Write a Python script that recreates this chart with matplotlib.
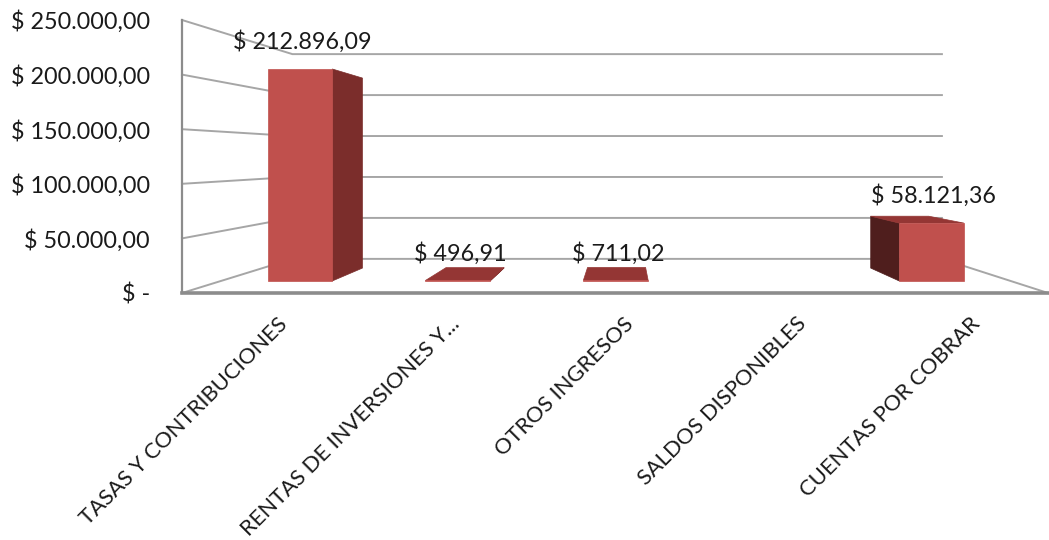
import numpy as np
import matplotlib.pyplot as plt
from matplotlib.patches import Polygon

plt.rcParams['font.family'] = ['Lato', 'DejaVu Sans']

categories = ['TASAS Y CONTRIBUCIONES', 'RENTAS DE INVERSIONES Y...',
              'OTROS INGRESOS', 'SALDOS DISPONIBLES', 'CUENTAS POR COBRAR']
values = [212896.09, 496.91, 711.02, np.nan, 58121.36]
yticks = [0, 50000, 100000, 150000, 200000, 250000]


def money(v):
    if v == 0:
        return '$ -'
    s = f'{v:,.2f}'.replace(',', '#').replace('.', ',').replace('#', '.')
    return '$ ' + s


# simple perspective: depth z from 0 (front) to 1 (back wall)
xc, vc = 2.05, 125000.0


def proj(x, v, z):
    s = 1.0 / (1.0 + z / 3.0)
    return xc + (x - xc) * s, vc + (v - vc) * s


W, H = 1049, 540
fig = plt.figure(figsize=(W / 100, H / 100), dpi=100)
ax = fig.add_axes([182 / W, (H - 293) / H, (1048 - 182) / W, 273 / H])
ax.set_xlim(-0.5, 4.5)
ax.set_ylim(0, 250000)

grid_c = '#a6a6a6'
x0, x1 = -0.5, 4.5
for v in yticks:
    pts = [proj(x0, v, 0), proj(x0, v, 1), proj(x1, v, 1)]
    ax.plot(*zip(*pts), color=grid_c, lw=1.4, zorder=1, clip_on=False)
ax.plot(*zip(proj(x1, 0, 0), proj(x1, 0, 1)), color=grid_c, lw=1.4, zorder=1,
        clip_on=False)

# bars
w, z0, z1 = 0.205, 0.29, 0.67
front_c, top_c = '#c0504d', '#943634'
for i, h in enumerate(values):
    if np.isnan(h):
        continue
    faces = []
    fl = proj(i - w, 0, z0)[0]
    fr = proj(i + w, 0, z0)[0]
    if fr < xc:
        faces.append(([(i + w, 0, z0), (i + w, 0, z1), (i + w, h, z1),
                       (i + w, h, z0)], '#7b2d2b'))
    elif fl > xc:
        faces.append(([(i - w, 0, z0), (i - w, 0, z1), (i - w, h, z1),
                       (i - w, h, z0)], '#4f1e1d'))
    if h < vc:
        faces.append(([(i - w, h, z0), (i + w, h, z0), (i + w, h, z1),
                       (i - w, h, z1)], top_c))
    faces.append(([(i - w, 0, z0), (i + w, 0, z0), (i + w, h, z0),
                   (i - w, h, z0)], front_c))
    for corners, col in faces:
        poly = Polygon([proj(*c) for c in corners], closed=True,
                       facecolor=col, edgecolor=col, lw=0.5, zorder=3)
        ax.add_patch(poly)
    ax.annotate(money(h), xy=proj(i, h, z0), xytext=(1.5, 19.5),
                textcoords='offset points', ha='center', va='center',
                fontsize=16.8, color='#1a1a1a', zorder=5)

# axes styling
for side in ['top', 'right']:
    ax.spines[side].set_visible(False)
ax.spines['left'].set_color('#8c8c8c')
ax.spines['left'].set_linewidth(1.6)
ax.spines['bottom'].set_color('#8c8c8c')
ax.spines['bottom'].set_linewidth(2.6)
ax.set_yticks(yticks)
ax.set_yticklabels([money(v) for v in yticks])
ax.tick_params(axis='y', length=0, pad=23, labelsize=16.8, labelcolor='#1a1a1a')
ax.set_xticks([])
for i, name in enumerate(categories):
    ax.annotate(name, xy=(i, 0), xycoords=('data', 'axes fraction'),
                xytext=(11, -20), textcoords='offset points', rotation=45,
                rotation_mode='anchor', ha='right', va='center',
                fontsize=15.8, color='#1a1a1a', annotation_clip=False)
ax.set_facecolor('none')

fig.savefig('out.png', dpi=100)
